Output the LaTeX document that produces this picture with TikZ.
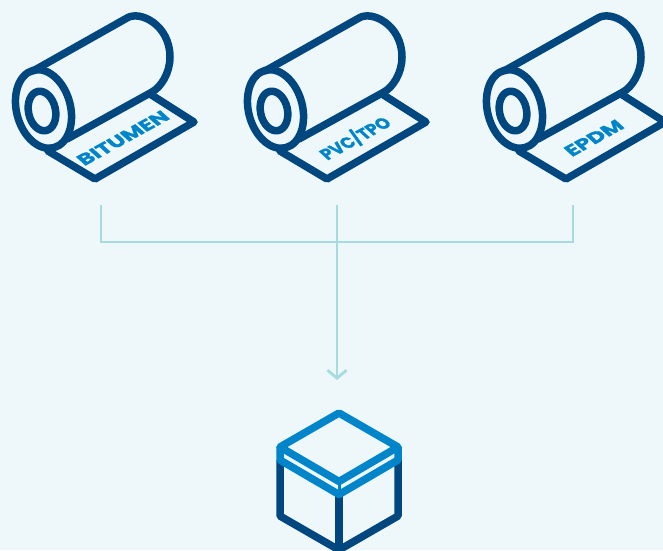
\documentclass[tikz,border=0pt]{standalone}
\usepackage{fontspec}
\setsansfont[BoldFeatures={FakeBold=1.2}]{Poppins}
\usepackage{xcolor}
\usetikzlibrary{arrows.meta, positioning, calc}
\definecolor{paleBg}{HTML}{EEF8FA}
\definecolor{darkBlue}{HTML}{00467F}
\definecolor{midBlue}{HTML}{0085CA}
\definecolor{paleTeal}{HTML}{A6DBE0}

\begin{document}
\begin{tikzpicture}[
    x=1pt, y=-1pt,
    roll/.style={draw=darkBlue, line width=7.5pt, line join=round, line cap=round},
    rolllabel/.style={text=midBlue, font=\sffamily\bfseries\fontsize{17}{17}\selectfont,
                      transform shape, inner sep=0pt},
    feed/.style={draw=paleTeal, line width=2.8pt},
    lid/.style={draw=midBlue, line width=7.5pt, line join=round},
    crate/.style={draw=darkBlue, line width=7.5pt, line join=round}
]
\fill[paleBg] (0,0) rectangle (663,550);
\clip (0,0) rectangle (663,550);
\useasboundingbox (0,0) rectangle (663,550);

% three rolls
\foreach \dx/\nm/\lab/\ax/\ay in {0/bitumen/BITUMEN/1.14/.63, 232/pvc/PVC\slash TPO/.84/.46, 471/epdm/EPDM/1.12/.62}{
  \begin{scope}[xshift=\dx pt]
    \draw[roll, rotate around={15:(43.5,109)}] (43.5,109) ellipse (27 and 40);
    \draw[roll, rotate around={12:(42,111)}] (42,111) ellipse (13.5 and 20);
    \draw[roll] (33,71) -- (127,18) .. controls (140,10) and (170,25) .. (170,57)
                .. controls (170,73) and (161,87) .. (152,92) -- (67,139);
    \draw[roll] (150,94) -- (194,122) -- (95,179) -- (48,151);
    \node[rolllabel, cm={\ax,\ay,-.8,.72,(0,0)}] (\nm) at (123,138) {\lab};
  \end{scope}
}

% connectors
\coordinate (a) at (101,205);
\coordinate (b) at (337,205);
\coordinate (c) at (573,205);
\coordinate (join) at (337,242);
\coordinate (tip) at (337,380);
\draw[feed] (a) |- (join) -| (c);
\draw[feed, -{Straight Barb[length=8pt, width=19pt, line width=2.8pt]}] (b) -- (tip);

% box
\coordinate (top) at (339,413);
\coordinate (right) at (398,447);
\coordinate (front) at (339,481.5);
\coordinate (left) at (280,447);
\coordinate (lidfront) at (339,494.5);
\coordinate (lidright) at (398,460);
\coordinate (lidleft) at (280,460);
\draw[crate] (lidleft) -- (280,516) -- (339,550) -- (398,516) -- (lidright);
\draw[crate] (lidfront) -- (339,552);
\draw[lid] (top) -- (right) -- (front) -- (left) -- cycle;
\draw[lid] (left) -- (lidleft) -- (lidfront) -- (lidright) -- (right);
\draw[lid, line width=3pt] (front) -- (lidfront);
\end{tikzpicture}
\end{document}
